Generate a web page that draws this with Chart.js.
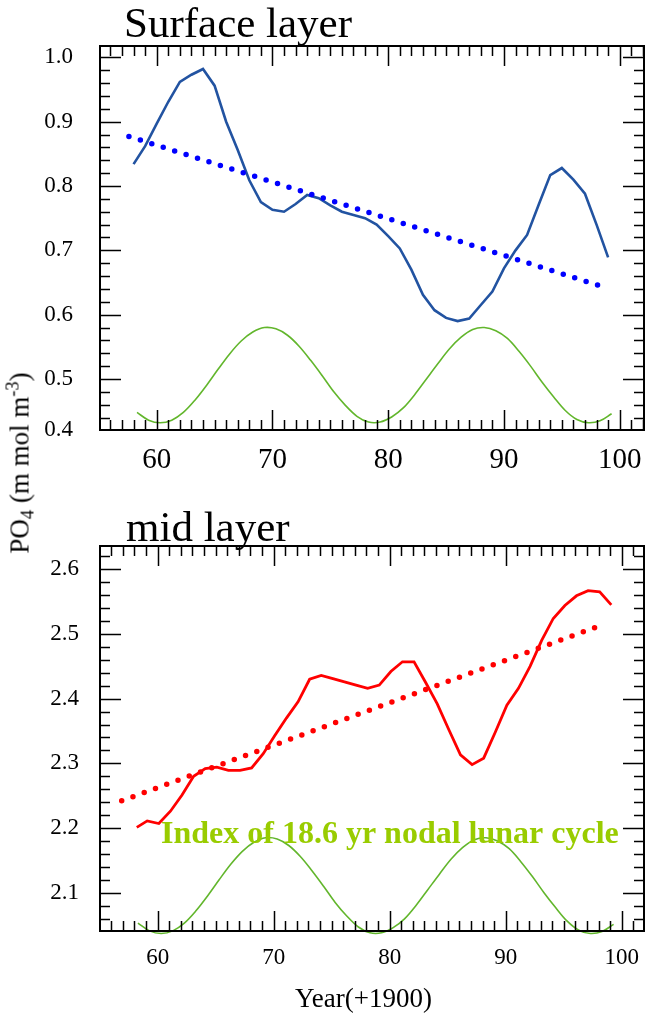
<!DOCTYPE html>
<html>
<head>
<meta charset="utf-8">
<script src="https://cdn.jsdelivr.net/npm/chart.js@4.4.1/dist/chart.umd.min.js"></script>
<style>
  html, body { margin: 0; padding: 0; background: #fff; }
  #wrap { position: relative; width: 645px; height: 1013px; overflow: hidden; }
  #surface { position: absolute; left: 0; top: 0; }
  #mid { position: absolute; left: 0; top: 490px; }
  #ytitle {
    position: absolute; left: 20px; top: 463px;
    transform: translate(-50%, -50%) rotate(-90deg);
    font-family: 'Liberation Serif', 'Times New Roman', serif;
    font-size: 27px; line-height: 1; white-space: nowrap; color: #000;
  }
  #ytitle sub { font-size: 68%; vertical-align: -0.28em; line-height: 0; }
  #ytitle sup { font-size: 68%; vertical-align: 0.55em; line-height: 0; }
</style>
</head>
<body>
<div id="wrap">
  <canvas id="surface" width="645" height="490"></canvas>
  <canvas id="mid" width="645" height="523"></canvas>
  <div id="ytitle">PO<sub>4</sub> (m mol m<sup>-3</sup>)</div>
</div>
<script>
// ---- data ----
const surfaceYears = [58, 59, 60, 61, 62, 63, 64, 65, 66, 67, 68, 69, 70, 71, 72, 73, 74, 75, 76, 77, 78,
                      79, 80, 81, 82, 83, 84, 85, 86, 87, 88, 89, 90, 91, 92, 93, 94, 95, 96, 97, 98, 99];
const surfacePO4 = [0.834, 0.862, 0.897, 0.931, 0.962, 0.973, 0.982, 0.956, 0.900, 0.856, 0.809, 0.775,
                    0.763, 0.760, 0.772, 0.786, 0.781, 0.770, 0.760, 0.755, 0.750, 0.740, 0.722, 0.703,
                    0.670, 0.631, 0.607, 0.595, 0.590, 0.594, 0.615, 0.636, 0.672, 0.700, 0.724, 0.771,
                    0.817, 0.828, 0.810, 0.788, 0.740, 0.689];
const surfaceTrendYears = [57.6, 98.1];
const surfaceTrendPO4 = [0.877, 0.646];

const midYears = [58.2, 59.1, 60.1, 61.1, 62.1, 63.1, 64.1, 65.1, 66.1, 67.1, 68.1, 69.1, 70.1, 71.1,
                  72.1, 73.1, 74.1, 75.1, 76.1, 77.1, 78.1, 79.1, 80.1, 81.1, 82.1, 83.1, 84.1, 85.1,
                  86.1, 87.1, 88.1, 89.1, 90.1, 91.1, 92.1, 93.1, 94.1, 95.1, 96.1, 97.1, 98.1, 99.1];
const midPO4 = [2.201, 2.211, 2.207, 2.226, 2.251, 2.280, 2.292, 2.294, 2.289, 2.289, 2.293, 2.315,
                2.343, 2.370, 2.395, 2.430, 2.436, 2.431, 2.426, 2.421, 2.416, 2.421, 2.442, 2.457,
                2.457, 2.425, 2.392, 2.352, 2.313, 2.298, 2.308, 2.348, 2.390, 2.416, 2.450, 2.490,
                2.524, 2.544, 2.559, 2.567, 2.565, 2.545];
const midTrendYears = [56.9, 97.7];
const midTrendPO4 = [2.242, 2.510];

// 18.6-yr nodal lunar cycle index, drawn in each panel
const lunarYears = [58.3, 59.3, 60.3, 61.3, 62.3, 63.3, 64.3, 65.3, 66.3, 67.3, 68.3, 69.3, 70.3, 71.3,
                    72.3, 73.3, 74.3, 75.3, 76.3, 77.3, 78.3, 79.3, 80.3, 81.3, 82.3, 83.3, 84.3, 85.3,
                    86.3, 87.3, 88.3, 89.3, 90.3, 91.3, 92.3, 93.3, 94.3, 95.3, 96.3, 97.3, 98.3, 99.3];
const lunarSurface = [0.448, 0.436, 0.432, 0.436, 0.448, 0.467, 0.490, 0.515, 0.539, 0.559, 0.573, 0.580,
                      0.578, 0.568, 0.551, 0.529, 0.505, 0.480, 0.459, 0.442, 0.433, 0.433, 0.441, 0.455,
                      0.476, 0.500, 0.524, 0.547, 0.565, 0.577, 0.580, 0.575, 0.563, 0.543, 0.520, 0.495,
                      0.472, 0.451, 0.437, 0.432, 0.435, 0.446];
const lunarMid = [2.053, 2.041, 2.037, 2.041, 2.053, 2.072, 2.095, 2.120, 2.144, 2.164, 2.178, 2.185,
                  2.183, 2.173, 2.156, 2.134, 2.110, 2.085, 2.064, 2.047, 2.038, 2.038, 2.046, 2.060,
                  2.081, 2.105, 2.129, 2.152, 2.170, 2.182, 2.185, 2.180, 2.168, 2.148, 2.125, 2.100,
                  2.077, 2.056, 2.042, 2.037, 2.040, 2.051];

// ---- axis ticks ----
const xTickValues = [60, 70, 80, 90, 100];
const xTickLabels = ['60', '70', '80', '90', '100'];
const surfaceYTicks = [0.4, 0.5, 0.6, 0.7, 0.8, 0.9, 1.0];
const surfaceYTickLabels = ['0.4', '0.5', '0.6', '0.7', '0.8', '0.9', '1.0'];
const midYTicks = [2.1, 2.2, 2.3, 2.4, 2.5, 2.6];
const midYTickLabels = ['2.1', '2.2', '2.3', '2.4', '2.5', '2.6'];

const SERIF = "'Liberation Serif', 'Times New Roman', serif";
const pts = (xs, ys) => xs.map((x, i) => ({ x, y: ys[i] }));

// Box frame with inward major/minor ticks on all four sides
const frameTicks = {
  id: 'frameTicks',
  afterDatasetsDraw(chart) {
    const { ctx, chartArea: a, scales: { x, y } } = chart;
    ctx.save();
    ctx.strokeStyle = '#000';
    ctx.lineWidth = 1.5;
    ctx.beginPath();
    for (let yr = Math.ceil(x.min); yr <= x.max; yr++) {
      const px = Math.round(x.getPixelForValue(yr)) + 0.5;
      const len = yr % 10 === 0 ? 20 : 10;
      ctx.moveTo(px, a.bottom); ctx.lineTo(px, a.bottom - len);
      ctx.moveTo(px, a.top); ctx.lineTo(px, a.top + len);
    }
    const k0 = Math.ceil(y.min / 0.02 - 1e-6), k1 = Math.floor(y.max / 0.02 + 1e-6);
    for (let k = k0; k <= k1; k++) {
      const py = Math.round(y.getPixelForValue(k * 0.02)) + 0.5;
      const len = k % 5 === 0 ? 21 : 10;
      ctx.moveTo(a.left, py); ctx.lineTo(a.left + len, py);
      ctx.moveTo(a.right, py); ctx.lineTo(a.right - len, py);
    }
    ctx.stroke();
    ctx.lineWidth = 2;
    ctx.strokeRect(a.left, a.top, a.right - a.left, a.bottom - a.top);
    ctx.restore();
  }
};

// Panel title and free text labels
const panelText = {
  id: 'panelText',
  afterDraw(chart, args, opts) {
    const { ctx, chartArea: a } = chart;
    ctx.save();
    ctx.textBaseline = 'alphabetic';
    ctx.textAlign = 'left';
    (opts.items || []).forEach(t => {
      ctx.font = t.font;
      ctx.fillStyle = t.color || '#000';
      ctx.fillText(t.text, a.left + t.dx, (t.fromTop ? a.top : a.bottom) + t.dy);
    });
    ctx.restore();
  }
};

function makeScales(xr, yr, yTicks, yLabels, xFont, xPad, yPad, xHeight) {
  return {
    x: {
      type: 'linear', min: xr[0], max: xr[1],
      afterBuildTicks: s => { s.ticks = xTickValues.map(v => ({ value: v })); },
      afterFit: s => { s.height = xHeight; s.paddingLeft = 0; s.paddingRight = 0; },
      ticks: {
        autoSkip: false, maxRotation: 0, color: '#000', padding: xPad,
        font: { family: SERIF, size: xFont, lineHeight: 1 },
        callback: (v, i) => xTickLabels[i]
      },
      grid: { display: false, drawTicks: false },
      border: { display: false }
    },
    y: {
      type: 'linear', min: yr[0], max: yr[1],
      afterBuildTicks: s => { s.ticks = yTicks.map(v => ({ value: Math.max(v, s.min) })); },
      afterFit: s => { s.width = 100; s.paddingTop = 0; s.paddingBottom = 0; },
      ticks: {
        autoSkip: false, color: '#000', padding: yPad,
        font: { family: SERIF, size: 23, lineHeight: 1 },
        callback: (v, i) => yLabels[i]
      },
      grid: { display: false, drawTicks: false },
      border: { display: false }
    }
  };
}

const common = {
  responsive: false,
  devicePixelRatio: 1,
  animation: false,
  events: [],
  plugins: { legend: { display: false }, tooltip: { enabled: false } }
};

new Chart(document.getElementById('surface'), {
  type: 'line',
  data: {
    datasets: [
      { data: pts(lunarYears, lunarSurface), borderColor: '#62b62c', borderWidth: 1.6,
        pointRadius: 0, tension: 0.35, fill: false },
      { data: pts(surfaceTrendYears, surfaceTrendPO4), borderColor: '#0000ff', borderWidth: 5.5,
        borderDash: [0, 11.99], borderCapStyle: 'round', pointRadius: 0, fill: false },
      { data: pts(surfaceYears, surfacePO4), borderColor: '#2253a1', borderWidth: 2.6,
        pointRadius: 0, tension: 0, fill: false }
    ]
  },
  options: {
    ...common,
    layout: { padding: { top: 46, right: 1, left: 0, bottom: 0 } },
    scales: makeScales([55.1, 102.1], [0.4207, 1.0177], surfaceYTicks, surfaceYTickLabels, 29, 16, 27, 60),
    plugins: {
      ...common.plugins,
      panelText: { items: [
        { text: 'Surface layer', font: `43px ${SERIF}`, dx: 24, dy: -9, fromTop: true }
      ] }
    }
  },
  plugins: [frameTicks, panelText]
});

new Chart(document.getElementById('mid'), {
  type: 'line',
  data: {
    datasets: [
      { data: pts(lunarYears, lunarMid), borderColor: '#62b62c', borderWidth: 1.6,
        pointRadius: 0, tension: 0.35, fill: false, clip: false },
      { data: pts(midTrendYears, midTrendPO4), borderColor: '#ff0000', borderWidth: 5.5,
        borderDash: [0, 11.99], borderCapStyle: 'round', pointRadius: 0, fill: false },
      { data: pts(midYears, midPO4), borderColor: '#ff0000', borderWidth: 2.8,
        pointRadius: 0, tension: 0, fill: false }
    ]
  },
  options: {
    ...common,
    layout: { padding: { top: 56, right: 1, left: 0, bottom: 0 } },
    scales: makeScales([55.03, 101.92], [2.0408, 2.636], midYTicks, midYTickLabels, 23, 15, 21, 82),
    plugins: {
      ...common.plugins,
      panelText: { items: [
        { text: 'mid layer', font: `43px ${SERIF}`, dx: 26, dy: -5.5, fromTop: true },
        { text: 'Index of 18.6 yr nodal lunar cycle', font: `bold 32px ${SERIF}`, color: '#99cc00',
          dx: 61, dy: 296.7, fromTop: true },
        { text: 'Year(+1900)', font: `27px ${SERIF}`, dx: 195, dy: 75.5, fromTop: false }
      ] }
    }
  },
  plugins: [frameTicks, panelText]
});
</script>
</body>
</html>
